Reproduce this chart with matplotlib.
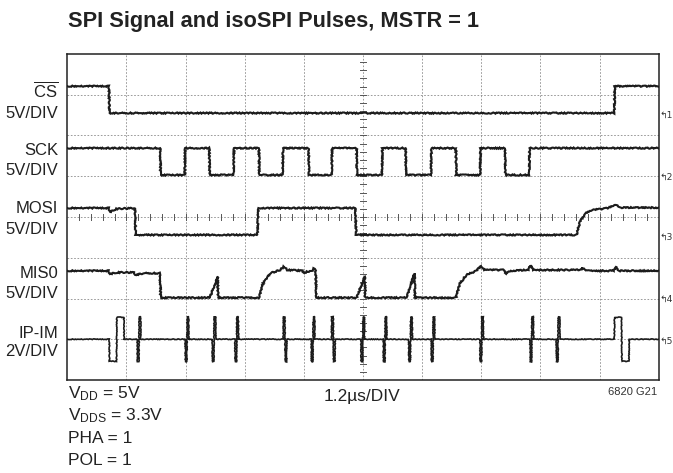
import matplotlib
matplotlib.use('Agg')
import matplotlib.pyplot as plt
import numpy as np
from matplotlib import font_manager
from matplotlib.transforms import blended_transform_factory

# ---------------- fonts ----------------
names = {f.name for f in font_manager.fontManager.ttflist}
NARROW = 'Liberation Sans Narrow' if 'Liberation Sans Narrow' in names else 'Liberation Sans'
plt.rcParams['font.family'] = [NARROW, 'DejaVu Sans']
plt.rcParams['mathtext.fontset'] = 'custom'
plt.rcParams['mathtext.rm'] = NARROW
plt.rcParams['mathtext.it'] = NARROW + ':italic'
plt.rcParams['mathtext.bf'] = NARROW + ':bold'

# ---------------- data (volts vs. time in divisions) ----------------
channel_labels = [r'$\overline{\mathrm{CS}}$', 'SCK', 'MOSI', 'MIS0', 'IP-IM']
channel_scales = ['5V/DIV', '5V/DIV', '5V/DIV', '5V/DIV', '2V/DIV']
volts_per_div = [5, 5, 5, 5, 2]
ground_div = [6.55, 5.03, 3.56, 2.02, 1.0]

CS_edges = [0.705, 9.25]
CS_levels = [3.3, 0.0, 3.3]

SCK_fall = [1.57, 2.40, 3.24, 4.08, 4.89, 5.72, 6.57, 7.40]
SCK_rise = [1.985, 2.81, 3.64, 4.47, 5.32, 6.15, 6.98, 7.81]
SCK_high = 3.3

MOSI_t = [0, 0.705, 0.72, 0.83, 1.13, 1.145, 1.155, 3.215, 3.23, 4.87, 4.885,
          8.61, 8.67, 8.76, 8.90, 9.12, 9.29, 9.36, 10]
MOSI_v = [3.3, 3.3, 2.8, 3.2, 3.3, 3.3, 0.0, 0.0, 3.3, 3.3, 0.0,
          0.0, 1.63, 2.66, 3.07, 3.27, 3.68, 3.35, 3.35]

MISO_t = [0, 0.70, 0.72, 0.85, 1.13, 1.15, 1.30, 1.565, 1.58, 2.41, 2.54, 2.55,
          3.24, 3.31, 3.43, 3.60, 3.66, 3.72, 3.98, 4.00, 4.05, 4.15, 4.17, 4.20, 4.21,
          4.89, 5.03, 5.04, 5.74, 5.87, 5.88,
          6.57, 6.64, 6.75, 6.92, 6.99, 7.05, 7.39, 7.41, 7.50, 7.80, 7.83, 7.88,
          8.68, 8.71, 8.76, 9.24, 9.27, 9.33, 10]
MISO_v = [3.3, 3.3, 2.9, 3.1, 3.1, 2.8, 3.0, 3.0, 0.0, 0.0, 2.58, 0.0,
          0.0, 1.77, 3.0, 3.4, 3.8, 3.4, 3.3, 3.0, 3.2, 3.3, 3.6, 3.3, 0.0,
          0.0, 2.58, 0.0, 0.0, 3.0, 0.0,
          0.0, 1.77, 2.8, 3.3, 3.9, 3.4, 3.4, 2.9, 3.3, 3.4, 4.0, 3.4,
          3.4, 3.7, 3.3, 3.3, 3.8, 3.3, 3.3]

# isoSPI doublets: centre time, polarity of first half (+1 / -1)
IPIM_short_t = [1.213, 2.024, 2.481, 2.865, 3.682, 4.156, 4.499, 4.996,
                5.373, 5.804, 6.185, 7.008, 7.854, 8.299]
IPIM_short_pol = [-1, -1, -1, -1, 1, -1, 1, -1, -1, -1, -1, -1, -1, -1]
IPIM_short_amp = 1.1
IPIM_long_t = [0.835, 9.375]
IPIM_long_pol = [-1, 1]
IPIM_long_amp = 1.08

# ---------------- helpers ----------------
def step_trace(edges, levels, rise=0.008):
    t, v = [0.0], [levels[0]]
    for e, a, b in zip(edges, levels[:-1], levels[1:]):
        t += [e, e + rise]
        v += [a, b]
    t.append(10.0)
    v.append(levels[-1])
    return np.array(t), np.array(v)

def doublet_trace(centres, pols, amps, halfw):
    ev = sorted(zip(centres, pols, amps, halfw))
    t, v = [0.0], [0.0]
    for c, p, a, h in ev:
        s = c - h
        t += [s, s + 0.003, c - 0.003, c + 0.003, c + h - 0.003, c + h]
        v += [0.0, p * a, p * a, -p * a, -p * a, 0.0]
    t.append(10.0)
    v.append(0.0)
    return np.array(t), np.array(v)

sck_edges = sorted(SCK_fall + SCK_rise)
sck_levels = [SCK_high] + [0.0 if i % 2 == 0 else SCK_high for i in range(len(sck_edges))]

traces = [
    step_trace(CS_edges, CS_levels),
    step_trace(sck_edges, sck_levels),
    (np.array(MOSI_t), np.array(MOSI_v)),
    (np.array(MISO_t), np.array(MISO_v)),
    doublet_trace(IPIM_short_t + IPIM_long_t,
                  IPIM_short_pol + IPIM_long_pol,
                  [IPIM_short_amp] * len(IPIM_short_t) + [IPIM_long_amp] * len(IPIM_long_t),
                  [0.03] * len(IPIM_short_t) + [0.125] * len(IPIM_long_t)),
]

# ---------------- figure ----------------
W, H = 673, 473
fig = plt.figure(figsize=(W / 100, H / 100), dpi=100)
L, R, T, B = 67.3, 658.7, 54, 380
ax = fig.add_axes([L / W, 1 - B / H, (R - L) / W, (B - T) / H])
ax.set_xlim(0, 10)
ax.set_ylim(0, 8)
ax.set_xticks([])
ax.set_yticks([])
for s in ax.spines.values():
    s.set_linewidth(1.1)
    s.set_color('#222222')

grid_kw = dict(color='#8a8a8a', lw=0.6, ls=(0, (2, 2)), zorder=1)
for gx in range(1, 10):
    ax.axvline(gx, **grid_kw)
for gy in range(1, 8):
    ax.axhline(gy, **grid_kw)
# centre graticule ticks
for tx in np.arange(0.2, 10, 0.2):
    ax.plot([tx, tx], [3.93, 4.07], color='#555555', lw=0.7, zorder=1)
for ty in np.arange(0.2, 8, 0.2):
    ax.plot([4.955, 5.045], [ty, ty], color='#555555', lw=0.7, zorder=1)

for k, ((t, v), g, vpd) in enumerate(zip(traces, ground_div, volts_per_div)):
    ln, = ax.plot(t, g + v / vpd, color='#1c1c1c', lw=1.5 if k < 4 else 1.2,
                  zorder=3, solid_joinstyle='miter')
    ln.set_sketch_params(scale=0.6 if k < 4 else 0.35, length=2.5, randomness=3)

# right-hand channel markers
tr = blended_transform_factory(ax.transAxes, ax.transData)
for i, g in enumerate(ground_div):
    ax.text(1.002, g - 0.05, '\u21b0' + str(i + 1), transform=tr, fontsize=6.6,
            family='DejaVu Sans', ha='left', va='center', color='#333333')

# left labels
lab_y = [(90, 113.3), (150.7, 170.7), (208.3, 229.3), (273.3, 293.3), (333.3, 351.7)]
for (name, scale), (y1, y2) in zip(zip(channel_labels, channel_scales), lab_y):
    fig.text(58 / W, 1 - y1 / H, name, ha='right', va='center', fontsize=12, color='#222222')
    fig.text(58 / W, 1 - y2 / H, scale, ha='right', va='center', fontsize=12, color='#222222')

# title
fig.text(68 / W, 1 - 21 / H, 'SPI Signal and isoSPI Pulses, MSTR = 1', ha='left',
         va='center', fontsize=15.7, fontweight='bold', color='#222222')

# bottom notes
notes = [r'V$_{\mathrm{DD}}$ = 5V', r'V$_{\mathrm{DDS}}$ = 3.3V', 'PHA = 1', 'POL = 1']
for k, s in enumerate(notes):
    fig.text(67.5 / W, 1 - (398 + 22.3 * k) / H, s, ha='left', va='baseline',
             fontsize=12.5, color='#222222')
fig.text(362 / W, 1 - 401 / H, '1.2\u00b5s/DIV', ha='center', va='baseline',
         fontsize=12.5, color='#222222')
fig.text(657 / W, 1 - 395 / H, '6820 G21', ha='right', va='baseline',
         fontsize=8, color='#333333')

fig.savefig('out.png', dpi=100)
